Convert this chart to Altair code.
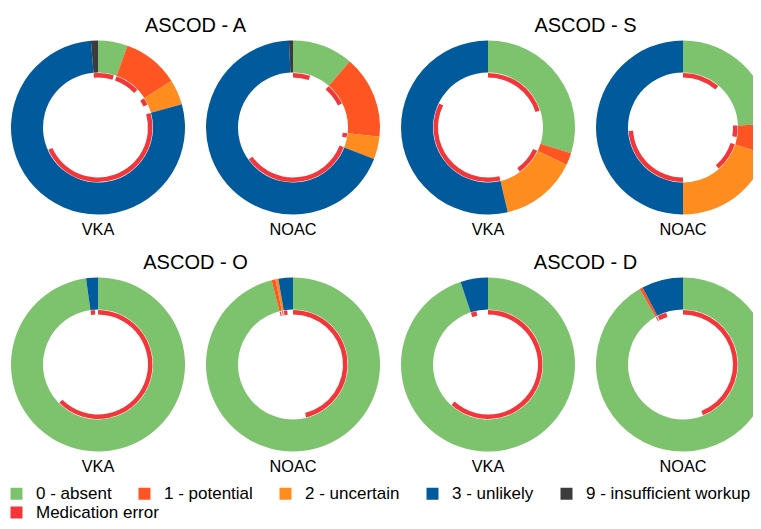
import altair as alt
import pandas as pd

groups = ["ASCOD - A", "ASCOD - S", "ASCOD - O", "ASCOD - D"]
arms = ["VKA", "NOAC"]
categories = ["0 - absent", "1 - potential", "2 - uncertain", "3 - unlikely", "9 - insufficient workup"]
cat_colors = ["#7dc36d", "#ff5522", "#ff8c1f", "#005a9c", "#3c3c3c"]
error_label = "Medication error"
error_color = "#f2363a"

# share (%) of each grade, clockwise from 12 o'clock, order = categories
a_vka = [5.5, 10.5, 4.7, 78.0, 1.3]
a_noac = [11.3, 15.4, 4.2, 68.35, 0.75]
s_vka = [29.8, 2.25, 14.3, 53.65, 0.0]
s_noac = [24.4, 5.6, 20.0, 50.0, 0.0]
o_vka = [97.8, 0.0, 0.0, 2.2, 0.0]
o_noac = [96.05, 0.7, 0.55, 2.7, 0.0]
d_vka = [94.9, 0.0, 0.0, 5.1, 0.0]
d_noac = [91.7, 0.6, 0.0, 7.7, 0.0]

# fraction of each grade's patients with a medication error
a_vka_err = [0.85, 0.70, 0.45, 0.61, 1.0]
a_noac_err = [0.45, 0.42, 0.30, 0.50, 0.0]
s_vka_err = [0.67, 0.0, 0.56, 0.67, 0.0]
s_noac_err = [0.46, 0.60, 0.43, 0.48, 0.0]
o_vka_err = [0.64, 0.0, 0.0, 0.60, 0.0]
o_noac_err = [0.48, 0.5, 0.5, 0.37, 0.0]
d_vka_err = [0.65, 0.0, 0.0, 0.33, 0.0]
d_noac_err = [0.48, 0.5, 0.0, 0.35, 0.0]

shares = {
    "ASCOD - A": [a_vka, a_noac],
    "ASCOD - S": [s_vka, s_noac],
    "ASCOD - O": [o_vka, o_noac],
    "ASCOD - D": [d_vka, d_noac],
}
errors = {
    "ASCOD - A": [a_vka_err, a_noac_err],
    "ASCOD - S": [s_vka_err, s_noac_err],
    "ASCOD - O": [o_vka_err, o_noac_err],
    "ASCOD - D": [d_vka_err, d_noac_err],
}

rows, labels, titles = [], [], []
for gi, g in enumerate(groups):
    r = gi // 2
    titles.append(dict(text=g, row=r, col=(gi % 2) * 2 + 0.5))
    for ai, arm in enumerate(arms):
        c = (gi % 2) * 2 + ai
        labels.append(dict(text=arm, row=r, col=c))
        for k, cat in enumerate(categories):
            rows.append(dict(panel=f"{g} {arm}", row=r, col=c, cat=cat, order=k,
                             value=shares[g][ai][k], err=errors[g][ai][k],
                             errlab=error_label))
df = pd.DataFrame(rows)
label_df = pd.DataFrame(labels)
title_df = pd.DataFrame(titles)

xs = alt.Scale(domain=[0, 3], range=[90, 675], zero=False, nice=False)
ys = alt.Scale(domain=[0, 1], range=[119.5, 356.5], zero=False, nice=False)
th = alt.Scale(domain=[0, 1])

legend_common = dict(orient="none", direction="horizontal", title=None,
                     symbolType="square", symbolSize=144, symbolStrokeWidth=0,
                     labelFont="Liberation Sans", labelFontSize=17, labelColor="#000",
                     labelOffset=11, columnPadding=24, padding=0, labelLimit=400)

base = alt.Chart(df).transform_filter("datum.value > 0").transform_stack(
    stack="value", groupby=["panel"], as_=["t0", "t1"], offset="normalize",
    sort=[alt.SortField("order", order="ascending")])

outer = base.mark_arc(innerRadius=55, outerRadius=87).encode(
    x=alt.X("col:Q", scale=xs, axis=None),
    y=alt.Y("row:Q", scale=ys, axis=None),
    theta=alt.Theta("t0:Q", scale=th, stack=False),
    theta2="t1:Q",
    color=alt.Color("cat:N", scale=alt.Scale(domain=categories, range=cat_colors),
                    legend=alt.Legend(legendX=0, legendY=477, **legend_common)),
)

inner = base.transform_filter("datum.err > 0").transform_calculate(
    te="datum.t0 + datum.err * (datum.t1 - datum.t0)"
).mark_arc(innerRadius=50, outerRadius=54.5).encode(
    x=alt.X("col:Q", scale=xs, axis=None),
    y=alt.Y("row:Q", scale=ys, axis=None),
    theta=alt.Theta("t0:Q", scale=th, stack=False),
    theta2="te:Q",
    color=alt.Color("errlab:N", scale=alt.Scale(domain=[error_label], range=[error_color]),
                    legend=alt.Legend(legendX=0, legendY=496, **legend_common)),
)

title_text = alt.Chart(title_df).mark_text(
    font="Liberation Sans", fontSize=20, color="#000", baseline="alphabetic", dy=-96
).encode(
    x=alt.X("col:Q", scale=xs, axis=None),
    y=alt.Y("row:Q", scale=ys, axis=None),
    text="text:N",
)

label_text = alt.Chart(label_df).mark_text(
    font="Liberation Sans", fontSize=16.3, color="#000", baseline="alphabetic", dy=107
).encode(
    x=alt.X("col:Q", scale=xs, axis=None),
    y=alt.Y("row:Q", scale=ys, axis=None),
    text="text:N",
)

chart = alt.layer(outer, inner, title_text, label_text).resolve_scale(
    color="independent"
).properties(
    width=745, height=513, padding=0,
    autosize=alt.AutoSizeParams(type="none"),
).configure_view(stroke=None)

chart.save("out.html", embed_options={"renderer": "svg", "actions": False})
